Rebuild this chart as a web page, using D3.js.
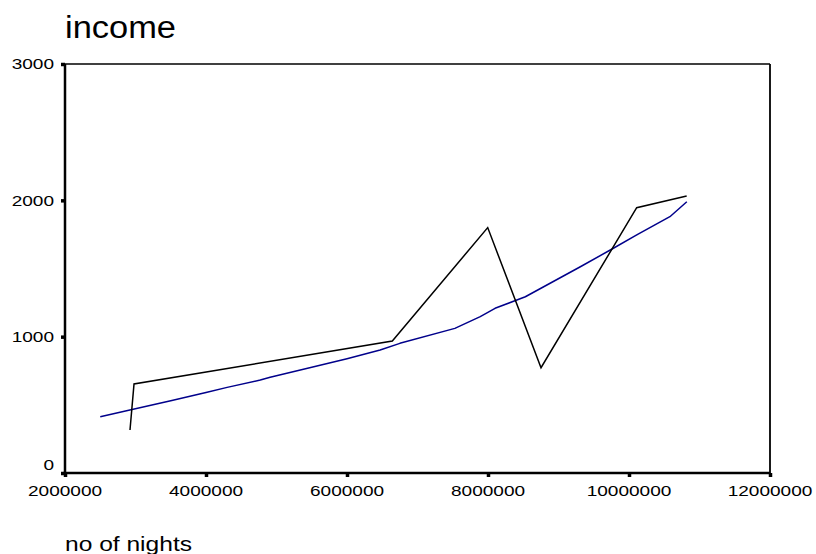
<!DOCTYPE html>
<html>
<head>
<meta charset="utf-8">
<script src="https://cdn.jsdelivr.net/npm/d3@7"></script>
<style>
  html, body { margin: 0; padding: 0; background: #fff; }
  svg { display: block; }
  text { font-family: "Liberation Sans", Arial, Helvetica, sans-serif; fill: #000; }
</style>
</head>
<body>
<svg id="chart" width="816" height="554"></svg>
<script>
// ---- data ----
const titleText = "income";
const xLabelText = "no of nights";
const xTicks = [2000000, 4000000, 6000000, 8000000, 10000000, 12000000];
const yTicks = [0, 1000, 2000, 3000];

// observed series (black)
const obsX = [2922000, 2979000, 6643000, 7996000, 8752000, 10109000, 10818000];
const obsY = [315, 653, 968, 1800, 772, 1946, 2032];

// fitted series (blue)
const fitX = [2500000, 2920000, 3500000, 4000000, 4300000, 4770000, 4910000, 5500000, 6000000,
              6470000, 6750000, 7530000, 7890000, 8100000, 8530000, 9310000, 9760000, 10110000,
              10580000, 10820000];
const fitY = [413, 462, 530, 590, 628, 682, 702, 775, 838, 902, 951, 1061, 1147, 1208, 1293,
              1513, 1643, 1746, 1880, 1990];

// ---- layout ----
const L = 65, R = 770, T = 64, B = 473;
const stretch = 1.27;

const svg = d3.select("#chart");
const x = d3.scaleLinear().domain([2000000, 12000000]).range([L, R]);
const y = d3.scaleLinear().domain([0, 3000]).range([B, T]);

// frame: top and right thinner
svg.append("line").attr("x1", L).attr("x2", R).attr("y1", T).attr("y2", T)
  .attr("stroke", "#000").attr("stroke-width", 1.6);
svg.append("line").attr("x1", R).attr("x2", R).attr("y1", T).attr("y2", B)
  .attr("stroke", "#000").attr("stroke-width", 1.8);

// axes
const xAxis = d3.axisBottom(x).tickValues(xTicks).tickSize(4).tickFormat("");
const yAxis = d3.axisLeft(y).tickValues(yTicks).tickSize(4).tickFormat("");
const gx = svg.append("g").attr("transform", `translate(0,${B})`).call(xAxis);
const gy = svg.append("g").attr("transform", `translate(${L},0)`).call(yAxis);
[gx, gy].forEach(g => {
  g.select(".domain").attr("stroke", "#000").attr("stroke-width", 2.5);
  g.selectAll(".tick line").attr("stroke", "#000").attr("stroke-width", 3.5);
});
gx.select(".domain").attr("d", `M${L - 1.5},0H${R}`);
gy.select(".domain").attr("d", `M0,${T}V${B}`);

// tick labels
svg.append("g").selectAll("text").data(xTicks).join("text")
  .attr("transform", d => `translate(${x(d)},495.5) scale(${stretch},1)`)
  .attr("text-anchor", "middle")
  .attr("font-size", 15)
  .text(d => d3.format("d")(d));

svg.append("g").selectAll("text").data(yTicks).join("text")
  .attr("transform", d => `translate(54,${y(d) + 5.3 - (d === 0 ? 8 : 0)}) scale(${stretch},1)`)
  .attr("text-anchor", "end")
  .attr("font-size", 15)
  .text(d => d3.format("d")(d));

// title & x label
svg.append("text").attr("x", 65).attr("y", 38)
  .attr("font-size", 31).attr("textLength", 111).attr("lengthAdjust", "spacingAndGlyphs")
  .text(titleText);
svg.append("text").attr("x", 65).attr("y", 550.5)
  .attr("font-size", 19.5).attr("textLength", 127).attr("lengthAdjust", "spacingAndGlyphs")
  .text(xLabelText);

// lines
const line = d3.line().x(d => x(d[0])).y(d => y(d[1]));
const fitData = fitX.map((v, i) => [v, fitY[i]]);
const obsData = obsX.map((v, i) => [v, obsY[i]]);

svg.append("path").datum(fitData).attr("d", line)
  .attr("fill", "none").attr("stroke", "#00008B").attr("stroke-width", 1.5)
  .attr("stroke-linejoin", "round");
svg.append("path").datum(obsData).attr("d", line)
  .attr("fill", "none").attr("stroke", "#000").attr("stroke-width", 1.5)
  .attr("stroke-linejoin", "miter");
</script>
</body>
</html>
